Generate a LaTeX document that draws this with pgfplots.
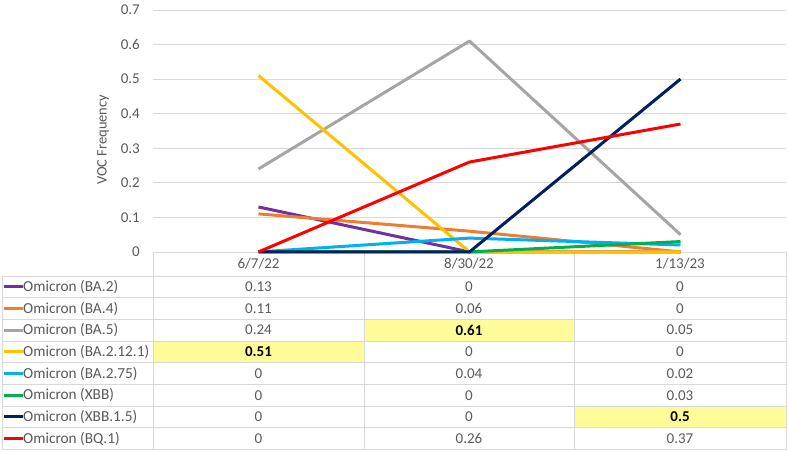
\documentclass[border=0pt]{standalone}
\usepackage{pgfplots}
\pgfplotsset{compat=1.18}
\usepackage{fontspec}
\setmainfont{Carlito}
\definecolor{txt}{HTML}{595959}
\definecolor{grd}{HTML}{D9D9D9}
\definecolor{hl}{HTML}{FFFB99}
\definecolor{cBAtwo}{HTML}{7030A0}
\definecolor{cBAfour}{HTML}{ED7D31}
\definecolor{cBAfive}{HTML}{A5A5A5}
\definecolor{cBAtt}{HTML}{FFC000}
\definecolor{cBAsf}{HTML}{00B0F0}
\definecolor{cXBB}{HTML}{00B050}
\definecolor{cXBBf}{HTML}{002060}
\definecolor{cBQ}{HTML}{FF0000}
\begin{document}
\fontsize{15}{18}\selectfont
\begin{tikzpicture}
\path (0pt,0pt) rectangle (789pt,449pt);
% highlights
\fill[hl] (153pt,89.2pt) rectangle (364pt,110.9pt);
\fill[hl] (364pt,110.9pt) rectangle (574pt,132.6pt);
\fill[hl] (574pt,24.1pt) rectangle (786.5pt,45.8pt);
% table grid
\foreach \yy in {176,154.3,132.6,110.9,89.2,67.5,45.8,24.1,2.4}
  \draw[grd,line width=0.8pt] (2.5pt,\yy pt) -- (786.5pt,\yy pt);
\draw[grd,line width=0.8pt] (2.5pt,2.4pt) -- (2.5pt,176pt);
\foreach \xx in {153,364,574,786.5}
  \draw[grd,line width=0.8pt] (\xx pt,2.4pt) -- (\xx pt,200pt);
% header
\foreach \xx/\lab in {258.5/6\slash 7\slash 22,469/8\slash 30\slash 22,680/1\slash 13\slash 23}
  \node[txt,font=\fontsize{15}{18}\selectfont] at (\xx pt,188pt) {\lab};
% legend column
\foreach \yy/\cc/\lab in {165.15/cBAtwo/Omicron (BA.2),143.45/cBAfour/Omicron (BA.4),121.75/cBAfive/Omicron (BA.5),100.05/cBAtt/Omicron (BA.2.12.1),78.35/cBAsf/Omicron (BA.2.75),56.65/cXBB/Omicron (XBB),34.95/cXBBf/Omicron (XBB.1.5),13.25/cBQ/Omicron (BQ.1)}{
  \draw[\cc,line width=3pt] (3.5pt,\yy pt) -- (23pt,\yy pt);
  \node[txt,anchor=west,inner sep=0pt,font=\fontsize{15.3}{18}\selectfont] at (23pt,\yy pt) {\lab};
}
% values
\foreach \yy/\a/\b/\c in {165.15/0.13/0/0,143.45/0.11/0.06/0,121.75/0.24//0.05,100.05//0/0,78.35/0/0.04/0.02,56.65/0/0/0.03,34.95/0/0/,13.25/0/0.26/0.37}{
  \node[txt,font=\fontsize{15}{18}\selectfont] at (258.5pt,\yy pt) {\a};
  \node[txt,font=\fontsize{15}{18}\selectfont] at (469pt,\yy pt) {\b};
  \node[txt,font=\fontsize{15}{18}\selectfont] at (680pt,\yy pt) {\c};
}
\node[font=\fontsize{15}{18}\selectfont\bfseries] at (258.5pt,100.05pt) {0.51};
\node[font=\fontsize{15}{18}\selectfont\bfseries] at (469pt,121.75pt) {0.61};
\node[font=\fontsize{15}{18}\selectfont\bfseries] at (680pt,34.95pt) {0.5};
% y label
\node[txt,rotate=90,font=\fontsize{14.5}{17}\selectfont] at (103pt,312pt) {VOC Frequency};
\begin{axis}[
  at={(153pt,200pt)}, anchor=south west,
  scale only axis, width=633pt, height=242pt,
  xmin=-0.5, xmax=2.5, ymin=0, ymax=0.7,
  xtick=\empty,
  ytick={0,0.1,...,0.7},
  yticklabels={0,0.1,0.2,0.3,0.4,0.5,0.6,0.7},
  ymajorgrids, grid style={grd,line width=0.8pt},
  axis line style={draw=none},
  major tick length=0pt,
  yticklabel style={txt,font=\fontsize{15}{18}\selectfont,xshift=-8pt},
  clip=false,
  every axis plot/.append style={line width=3pt, line join=round, no markers},
]
\addplot[cBAtwo] coordinates {(0,0.13) (1,0) (2,0)};
\addplot[cBAfour] coordinates {(0,0.11) (1,0.06) (2,0)};
\addplot[cBAfive] coordinates {(0,0.24) (1,0.61) (2,0.05)};
\addplot[cBAtt] coordinates {(0,0.51) (1,0) (2,0)};
\addplot[cBAsf] coordinates {(0,0) (1,0.04) (2,0.02)};
\addplot[cXBB] coordinates {(0,0) (1,0) (2,0.03)};
\addplot[cXBBf] coordinates {(0,0) (1,0) (2,0.5)};
\addplot[cBQ] coordinates {(0,0) (1,0.26) (2,0.37)};
\end{axis}
\end{tikzpicture}
\end{document}
